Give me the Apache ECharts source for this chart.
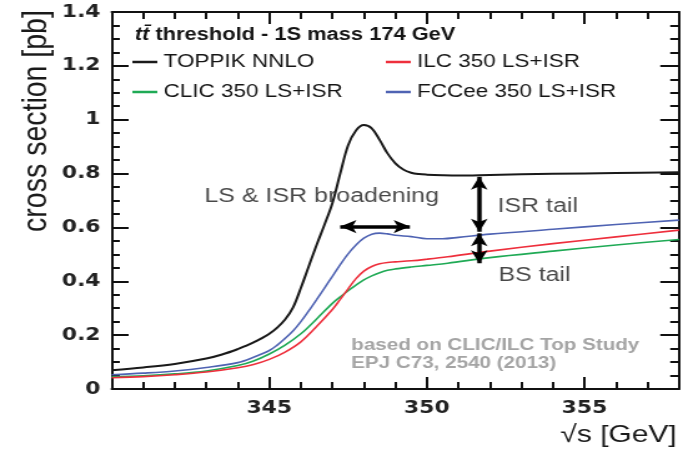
<!DOCTYPE html>
<html><head><meta charset="utf-8">
<script src="https://cdn.jsdelivr.net/npm/echarts@6.0.0/dist/echarts.min.js"></script>
<style>
html,body{margin:0;padding:0;overflow:hidden;background:#fff;width:693px;height:455px}
#c{width:555px;height:455px;transform:scaleX(1.2486);transform-origin:0 0;}
</style>
</head><body><div id="c"></div>
<script>
// ---- data ----
const seriesNames = ['TOPPIK NNLO', 'CLIC 350 LS+ISR', 'ILC 350 LS+ISR', 'FCCee 350 LS+ISR'];
const toppikNNLO = [[340,0.070],[341,0.080],[342,0.093],[343,0.113],[343.5,0.128],[344,0.148],[344.25,0.160],[344.5,0.173],[344.75,0.188],[345,0.205],[345.25,0.228],[345.5,0.258],[345.75,0.302],[346,0.375],[346.25,0.455],[346.5,0.535],[346.75,0.610],[347,0.690],[347.25,0.800],[347.5,0.905],[347.75,0.960],[348,0.980],[348.25,0.968],[348.5,0.925],[348.75,0.875],[349,0.838],[349.25,0.815],[349.5,0.803],[349.75,0.798],[350,0.796],[350.5,0.794],[351,0.793],[352,0.795],[354,0.799],[356,0.802],[358,0.805]];
const clic350 = [[340,0.045],[341,0.049],[342,0.056],[343,0.067],[344,0.087],[344.5,0.104],[345,0.130],[345.5,0.163],[346,0.205],[346.5,0.260],[347,0.318],[347.25,0.342],[347.5,0.365],[347.75,0.386],[348,0.405],[348.25,0.420],[348.5,0.432],[348.75,0.441],[349,0.446],[349.5,0.453],[350,0.459],[350.66,0.467],[352,0.488],[354,0.512],[356,0.535],[358,0.555]];
const ilc350 = [[340,0.042],[341,0.046],[342,0.053],[343,0.063],[344,0.079],[344.5,0.091],[345,0.110],[345.5,0.137],[346,0.175],[346.5,0.232],[347,0.295],[347.25,0.333],[347.5,0.372],[347.75,0.410],[348,0.438],[348.25,0.455],[348.5,0.465],[348.75,0.470],[349,0.472],[349.5,0.476],[350,0.482],[350.66,0.491],[352,0.512],[354,0.540],[356,0.565],[358,0.590]];
const fccee350 = [[340,0.053],[341,0.059],[342,0.067],[343,0.080],[344,0.098],[344.5,0.118],[345,0.143],[345.25,0.163],[345.5,0.188],[345.75,0.215],[346,0.250],[346.25,0.290],[346.5,0.332],[346.75,0.375],[347,0.418],[347.25,0.462],[347.5,0.502],[347.75,0.535],[348,0.560],[348.25,0.575],[348.5,0.579],[348.75,0.576],[349,0.571],[349.5,0.566],[350,0.558],[350.5,0.558],[351,0.563],[352,0.575],[354,0.593],[356,0.611],[358,0.627]];
const xTicks = {min: 340, max: 358, major: 5, minor: 1};
const yTicks = {min: 0, max: 1.4, major: 0.2};
const arrows = [
  [[347.25,0.603],[349.46,0.603]],
  [[351.66,0.788],[351.66,0.584]],
  [[351.66,0.578],[351.66,0.467]]
];
const notes = [
  {name:'LS & ISR broadening', value:[342.94,0.714]},
  {name:'ISR tail', value:[352.24,0.677]},
  {name:'BS tail', value:[352.27,0.423]},
  {name:'based on CLIC/ILC Top Study', value:[347.6,0.160]},
  {name:'EPJ C73, 2540 (2013)', value:[347.6,0.095]}
];
const titleText = '{i|tt\u0304} threshold - 1S mass 174 GeV';
const yTitle = 'cross section [pb]';
const xTitle = '\u221As [GeV]';

// ---- styles ----
const colors = ['#1a1a1a', '#1faa55', '#ee2f3c', '#4f63b3'];
const axisFont = 'DejaVu Sans';
const textFont = 'Liberation Sans';
const frame = {show:true, lineStyle:{color:'#111', width:2}};

function xAxisDef(pos, interval, len, labels, line){
  return {type:'value', position:pos, min:xTicks.min, max:xTicks.max, interval:interval,
    axisLine: line ? frame : {show:false},
    axisTick:{show:true, inside:true, length:len, lineStyle:{color:'#111', width:2}},
    axisLabel:{show:labels, margin:10, fontFamily:axisFont, fontWeight:'bold', fontSize:17.5, color:'#222', showMinLabel:false, showMaxLabel:false},
    splitLine:{show:false}};
}
function yAxisDef(pos, labels, len, mlen){
  return {type:'value', position:pos, min:yTicks.min, max:yTicks.max, interval:yTicks.major,
    axisLine: frame,
    axisTick:{show:true, inside:true, length:len, lineStyle:{color:'#111', width:2}},
    minorTick:{show:true, splitNumber:4, length:mlen, lineStyle:{color:'#111', width:2}},
    axisLabel:{show:labels, margin:9, fontFamily:axisFont, fontWeight:'bold', fontSize:17.5, color:'#222'},
    splitLine:{show:false}, minorSplitLine:{show:false}};
}

const datasets = [toppikNNLO, clic350, ilc350, fccee350];
const lineSeries = datasets.map((d, i) => ({
  name: seriesNames[i], type:'line', data:d, smooth:0.35, showSymbol:false, symbol:'none',
  xAxisIndex:0, yAxisIndex:0, z: i===0 ? 3 : 2,
  lineStyle:{color:colors[i], width: i===0 ? 2 : 1.6}, itemStyle:{color:colors[i]}
}));

const legendCommon = {orient:'vertical', icon:'rect', itemWidth:20, itemHeight:2.5, itemGap:10, padding:0,
  selectedMode:false, textStyle:{fontFamily:textFont, fontSize:18, color:'#151515', lineHeight:20}};

const notesData = notes.map((n, i) => i >= 3 ?
  Object.assign({}, n, {label:{fontWeight:'bold', fontSize:16.5, color:'#8d8d8d'}}) : n);

const chart = echarts.init(document.getElementById('c'));
chart.setOption({
  animation:false,
  backgroundColor:'#fff',
  grid:{left:89.5, right:11.2, top:12, bottom:66, containLabel:false},
  title:{text:titleText, left:108, top:25, padding:0,
    textStyle:{fontFamily:textFont, fontWeight:'bold', fontSize:17.5, color:'#151515', lineHeight:20,
      rich:{i:{fontFamily:textFont, fontWeight:'bold', fontStyle:'italic', fontSize:17.5, color:'#151515'}}}},
  legend:[
    Object.assign({left:106, top:52, data:[seriesNames[0], seriesNames[1]]}, legendCommon),
    Object.assign({left:309, top:52, data:[seriesNames[2], seriesNames[3]]}, legendCommon)
  ],
  xAxis:[
    xAxisDef('bottom', xTicks.major, 12, true, true),
    xAxisDef('bottom', xTicks.minor, 7, false, false),
    xAxisDef('top', xTicks.major, 12, false, true),
    xAxisDef('top', xTicks.minor, 7, false, false)
  ],
  yAxis:[ yAxisDef('left', true, 13.5, 6.5), yAxisDef('right', false, 15, 7) ],
  graphic:[
    {type:'text', x:29.6, y:121, rotation:Math.PI/2,
      style:{text:yTitle, fontFamily:textFont, fontSize:28.5, fill:'#1a1a1a', align:'center', verticalAlign:'middle'}},
    {type:'text', x:542, y:435,
      style:{text:xTitle, fontFamily:textFont, fontSize:24, fill:'#1a1a1a', align:'right', verticalAlign:'middle'}}
  ],
  series: lineSeries.concat([
    {name:'arrows', type:'line', data:[], xAxisIndex:0, yAxisIndex:0, silent:true,
      markLine:{silent:true, symbol:['arrow','arrow'], symbolSize:[10,13], label:{show:false},
        lineStyle:{color:'#000', width:3.5, type:'solid'},
        data: arrows.map(a => [{coord:a[0]}, {coord:a[1]}])}},
    {name:'notes', type:'scatter', data:notesData, symbolSize:0, silent:true, xAxisIndex:0, yAxisIndex:0,
      label:{show:true, position:'right', distance:0, formatter:'{b}', fontFamily:textFont, fontSize:20, color:'#1a1a1a'},
      labelLayout:{hideOverlap:false}}
  ])
});
</script></body></html>
